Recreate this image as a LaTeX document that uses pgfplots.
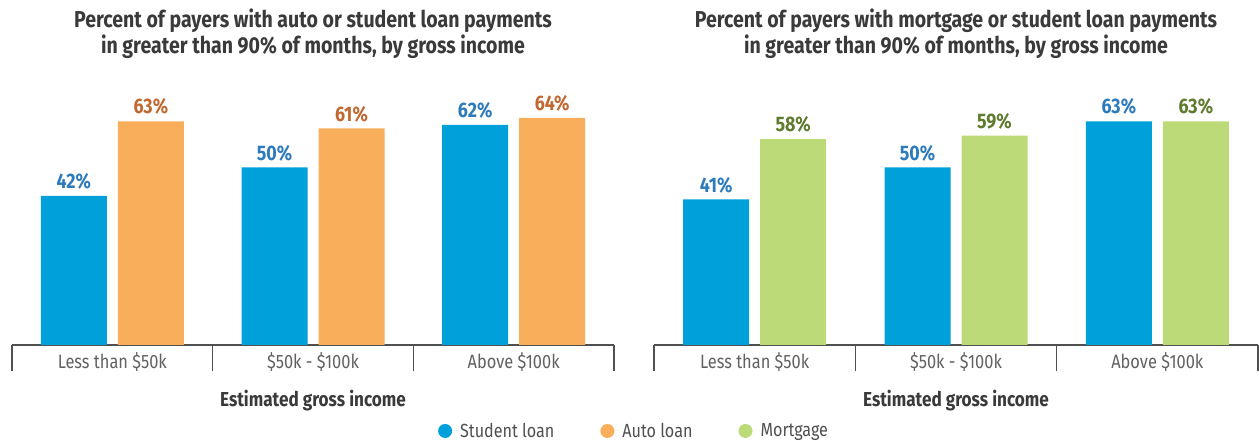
\documentclass[border=0pt]{standalone}
\usepackage{pgfplots}
\pgfplotsset{compat=1.18}
\usepackage{fontspec}
\setmainfont[FakeStretch=0.85]{Fira Sans}

\definecolor{sblue}{HTML}{00A0DB}
\definecolor{sorange}{HTML}{F9AE5B}
\definecolor{sgreen}{HTML}{BCDA78}
\definecolor{lblue}{HTML}{2E7BBC}
\definecolor{lorange}{HTML}{C0682F}
\definecolor{lgreen}{HTML}{5F7B2E}
\definecolor{ttext}{HTML}{3A3A3A}
\definecolor{axgray}{HTML}{505050}

\pgfplotsset{
  incomebars/.style={
    scale only axis,
    height=248.5pt,
    ymin=0, ymax=70,
    xmin=-0.5, xmax=2.5,
    axis y line=none,
    axis x line*=bottom,
    axis line style={axgray, line width=1.4pt},
    xtick={0,1,2},
    xticklabels={Less than \$50k, \$50k - \$100k, Above \$100k},
    major tick length=0pt,
    minor xtick={-0.5,0.5,1.5,2.5},
    minor tick length=26pt,
    tick align=outside,
    minor tick style={axgray, line width=1.4pt},
    xticklabel style={font=\fontsize{19.3}{22}\selectfont, text=axgray!90, yshift=-4pt},
    xlabel={\bfseries Estimated gross income},
    xlabel style={at={(axis description cs:0.5,0)}, anchor=center, yshift=-56pt,
                  font=\fontsize{20.2}{23}\selectfont, text=ttext},
    title style={at={(axis description cs:0.5,1)}, anchor=south, yshift=28pt,
                 align=center, font=\bfseries\fontsize{23}{26}\selectfont, text=ttext},
    ybar, bar width=66pt,
    /pgf/number format/assume math mode=true,
    nodes near coords={\pgfmathprintnumber{\pgfplotspointmeta}\%},
    nodes near coords style={font=\bfseries\fontsize{21}{24}\selectfont, yshift=3pt},
    clip=false,
  },
}

\begin{document}
\begin{tikzpicture}
\useasboundingbox (-12pt,-96pt) rectangle (1247pt,345pt);

% left panel: auto vs student loan
\begin{axis}[incomebars, width=602pt,
  title={Percent of payers with auto or student loan payments\\in greater than 90\% of months, by gross income}]
\addplot[fill=sblue, draw=none, bar shift=-38.5pt,
  every node near coord/.append style={text=lblue}] coordinates {(0,42) (1,50) (2,62)};
\addplot[fill=sorange, draw=none, bar shift=38.5pt,
  every node near coord/.append style={text=lorange}] coordinates {(0,63) (1,61) (2,64)};
\end{axis}

% right panel: mortgage vs student loan
\begin{axis}[incomebars, width=604pt, at={(642pt,0pt)},
  title={Percent of payers with mortgage or student loan payments\\in greater than 90\% of months, by gross income},
  legend image code/.code={\path (0pt,0pt) -- (20pt,0pt); \fill[#1] (7pt,0pt) circle (7pt);},
  legend style={draw=none, fill=none, at={(axis description cs:-0.033,-0.346)}, anchor=center,
    font=\fontsize{19}{21}\selectfont, text=axgray, legend columns=3,
    /tikz/every even column/.append style={column sep=44pt}},
]
\addplot[fill=sblue, draw=none, bar shift=-38.5pt, forget plot,
  every node near coord/.append style={text=lblue}] coordinates {(0,41) (1,50) (2,63)};
\addplot[fill=sgreen, draw=none, bar shift=38.5pt, forget plot,
  every node near coord/.append style={text=lgreen}] coordinates {(0,58) (1,59) (2,63)};
\addlegendimage{fill=sblue, draw=none}
\addlegendentry{Student loan}
\addlegendimage{fill=sorange, draw=none}
\addlegendentry{Auto loan}
\addlegendimage{fill=sgreen, draw=none}
\addlegendentry{Mortgage}
\end{axis}
\end{tikzpicture}
\end{document}
